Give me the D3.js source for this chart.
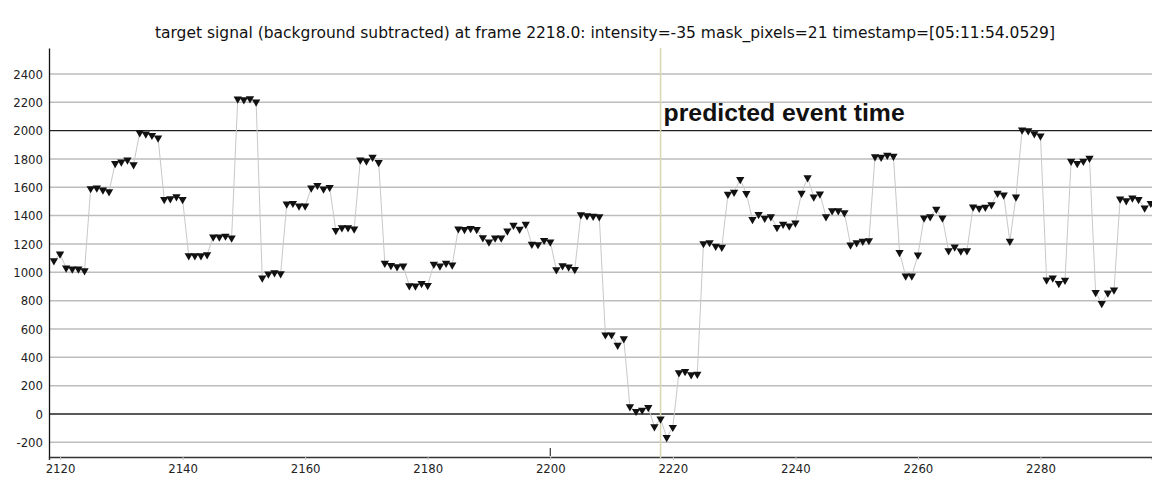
<!DOCTYPE html>
<html>
  <head>
    <meta charset="utf-8">
    <title>Target signal</title>
    <script src="https://cdn.jsdelivr.net/npm/d3@7"></script>
    <style>
      body { margin: 0; background: #fff; }
    </style>
  </head>
  <body>
    <div id="chart"></div>
    <script>
      // frame numbers along the x axis
      var firstFrame = 2119
      var lastFrame = 2298
      var frames = d3.range(firstFrame, lastFrame + 1)

      // background subtracted intensity, one per frame
      var intensity = [
        1082, 1129, 1031, 1024, 1024, 1012, 1591, 1595, 1581, 1569,
        1769, 1779, 1793, 1760, 1986, 1976, 1967, 1948, 1515, 1520,
        1534, 1515, 1118, 1118, 1118, 1125, 1249, 1249, 1256, 1242,
        2224, 2219, 2226, 2202, 960, 988, 998, 991, 1482, 1487,
        1468, 1468, 1595, 1614, 1588, 1600, 1296, 1315, 1315, 1306,
        1793, 1786, 1812, 1776, 1064, 1049, 1040, 1045, 906, 904,
        922, 908, 1057, 1045, 1064, 1052, 1307, 1302, 1309, 1302,
        1245, 1215, 1243, 1243, 1292, 1332, 1304, 1340, 1198, 1196,
        1226, 1215, 1019, 1047, 1038, 1021, 1406, 1399, 1396, 1392,
        559, 559, 486, 531, 52, 19, 28, 47, -90, -35,
        -165, -94, 292, 300, 278, 281, 1203, 1210, 1184, 1177,
        1552, 1566, 1656, 1557, 1373, 1408, 1382, 1392, 1316, 1340,
        1328, 1348, 1558, 1668, 1532, 1553, 1393, 1435, 1435, 1421,
        1193, 1209, 1219, 1224, 1816, 1812, 1826, 1819, 1141, 974,
        974, 1122, 1384, 1393, 1445, 1384, 1153, 1179, 1151, 1153,
        1462, 1453, 1459, 1478, 1558, 1546, 1219, 1532, 2005, 2000,
        1979, 1962, 946, 960, 922, 944, 1784, 1769, 1784, 1805,
        858, 781, 854, 875, 1518, 1506, 1525, 1515, 1454, 1487
      ]

      var xTicks = [2120, 2140, 2160, 2180, 2200, 2220, 2240, 2260, 2280]
      var yTicks = [-200, 0, 200, 400, 600, 800, 1000, 1200, 1400, 1600, 1800, 2000, 2200, 2400]
      var darkLines = [0, 2000]
      var eventFrame = 2218
      var eventLabel = "predicted event time"
      var title = "target signal (background subtracted) at frame 2218.0: intensity=-35 mask_pixels=21 timestamp=[05:11:54.0529]"

      var W = 1152, H = 483
      var plotLeft = 49, plotTop = 48, plotBottom = 457, plotRight = 1152
      var labelFont = "'DejaVu Sans Condensed', 'DejaVu Sans', sans-serif"

      var x = d3.scaleLinear().domain([2118.2, 2298.2]).range([plotLeft, plotRight])
      var y = d3.scaleLinear().domain([-303.5, 2583]).range([plotBottom, plotTop])

      var svg = d3.select("#chart").append("svg").attr("width", W).attr("height", H)

      svg.append("defs").append("clipPath").attr("id", "plot")
        .append("rect").attr("x", plotLeft).attr("y", plotTop)
        .attr("width", plotRight - plotLeft).attr("height", plotBottom - plotTop)

      // title
      svg.append("text").attr("x", 605).attr("y", 38).attr("text-anchor", "middle")
        .style("font-family", labelFont).style("font-size", "16.5px").attr("fill", "#111")
        .attr("textLength", 900).attr("lengthAdjust", "spacingAndGlyphs")
        .text(title)

      // horizontal grid
      svg.append("g").selectAll("line").data(yTicks).enter().append("line")
        .attr("x1", plotLeft).attr("x2", plotRight)
        .attr("y1", d => y(d)).attr("y2", d => y(d))
        .attr("stroke", d => darkLines.includes(d) ? "#222" : "#bdbdbd")
        .attr("stroke-width", d => darkLines.includes(d) ? 1.3 : 1.5)

      // y axis
      var yAxis = d3.axisLeft(y).tickValues(yTicks).tickFormat(d => String(d)).tickSize(0).tickPadding(6)
      var gy = svg.append("g").attr("transform", "translate(" + plotLeft + ",0)").call(yAxis)
      gy.select(".domain").attr("stroke", "#111").attr("stroke-width", 1.3)
      gy.selectAll("text").style("font-family", labelFont).style("font-size", "13px").attr("fill", "#222")

      // x axis
      var xAxis = d3.axisBottom(x).tickValues(xTicks).tickFormat(d => String(d)).tickSize(3).tickPadding(4)
      var gx = svg.append("g").attr("transform", "translate(0," + plotBottom + ")").call(xAxis)
      gx.select(".domain").attr("stroke", "#333").attr("stroke-width", 1.5)
      gx.selectAll(".tick line").attr("stroke", "#ccc")
      gx.selectAll("text").style("font-family", labelFont).style("font-size", "13px").attr("fill", "#222")
      // small marker at the 2200 tick
      gx.append("line").attr("x1", x(2200)).attr("x2", x(2200)).attr("y1", -1).attr("y2", -9)
        .attr("stroke", "#111").attr("stroke-width", 1)

      // event marker
      svg.append("line").attr("x1", x(eventFrame)).attr("x2", x(eventFrame))
        .attr("y1", plotTop).attr("y2", plotBottom + 1)
        .attr("stroke", "#d9d7b0").attr("stroke-width", 1.5)
      svg.append("text").attr("x", x(eventFrame) + 3).attr("y", 121)
        .style("font-family", "'Liberation Sans', Arial, sans-serif")
        .style("font-weight", "bold").style("font-size", "24.8px").attr("fill", "#111")
        .text(eventLabel)

      var plot = svg.append("g").attr("clip-path", "url(#plot)")

      var pts = frames.map((f, i) => [f, intensity[i]])

      plot.append("path").datum(pts)
        .attr("fill", "none").attr("stroke", "#c8c8c8").attr("stroke-width", 1)
        .attr("d", d3.line().x(d => x(d[0])).y(d => y(d[1])))

      var tri = d3.symbol().type(d3.symbolTriangle).size(30)
      plot.selectAll("path.pt").data(pts).enter().append("path")
        .attr("class", "pt")
        .attr("d", tri)
        .attr("transform", d => "translate(" + x(d[0]) + "," + y(d[1]) + ") rotate(180)")
        .attr("fill", "#111")
    </script>
  </body>
</html>
